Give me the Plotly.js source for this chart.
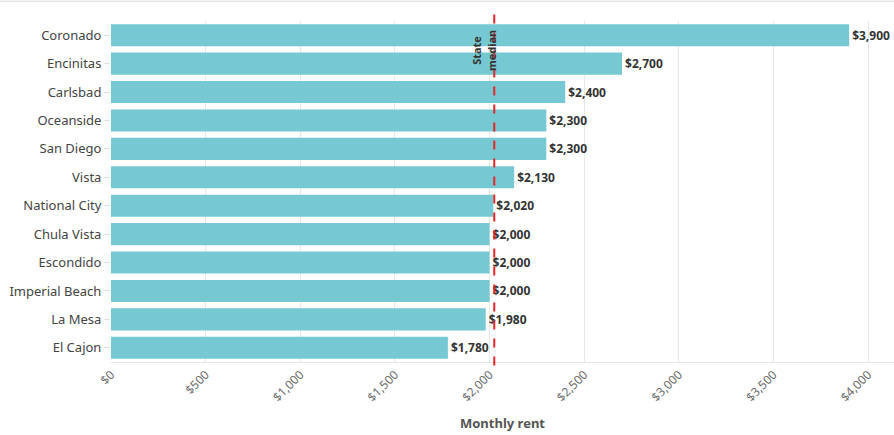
<!DOCTYPE html>
<html><head><meta charset="utf-8">
<script src="https://cdn.plot.ly/plotly-3.0.1.min.js"></script>
<style>html,body{margin:0;padding:0;background:#fff}#chart{width:894px;height:435px}</style>
</head><body><div id="chart"></div>
<script>
const cities = ["Coronado","Encinitas","Carlsbad","Oceanside","San Diego","Vista","National City","Chula Vista","Escondido","Imperial Beach","La Mesa","El Cajon"];
const rents = [3900,2700,2400,2300,2300,2130,2020,2000,2000,2000,1980,1780];
const stateMedian = 2025;
const medianLabel = "State<br>median";
const xTitle = "Monthly rent";

const FONT = "'Noto Sans', 'Open Sans', sans-serif";
const trace = {
  type: "bar", orientation: "h",
  y: cities, x: rents,
  marker: {color: "#76c9d2", line: {width: 0}},
  width: 0.78,
  text: rents.map(v => "$" + v.toLocaleString("en-US")),
  textposition: "outside",
  textfont: {family: FONT, size: 12, color: "#333", weight: "bold"},
  cliponaxis: false,
  constraintext: "none",
  hoverinfo: "skip"
};
const layout = {
  width: 894, height: 435,
  margin: {l: 111, r: 0, t: 21, b: 73},
  paper_bgcolor: "#fff", plot_bgcolor: "#fff",
  font: {family: FONT, color: "#555"},
  showlegend: false,
  xaxis: {
    range: [0, 4137], dtick: 500, tick0: 0,
    tickprefix: "$", tickformat: ",d", tickangle: -45,
    tickfont: {family: FONT, size: 12, color: "#6a6a6a"},
    showgrid: true, gridcolor: "#e8e8e8", gridwidth: 1,
    zeroline: false, showline: true, linecolor: "#e6e6e6",
    ticks: "", fixedrange: true,
    title: {text: xTitle, font: {family: FONT, size: 13, color: "#555", weight: "bold"}, standoff: 14}
  },
  yaxis: {
    autorange: "reversed", type: "category",
    tickfont: {family: FONT, size: 13, color: "#444"},
    ticks: "outside", ticklen: 6, tickcolor: "#e0e0e0",
    showgrid: false, zeroline: false, showline: false, fixedrange: true
  },
  shapes: [
    {type: "line", xref: "x", yref: "paper", x0: stateMedian, x1: stateMedian, y0: -0.01, y1: 1.02,
     line: {color: "#e3262b", width: 2, dash: "dash"}},
    {type: "line", xref: "paper", yref: "paper", x0: -0.2, x1: 1.1, y0: 1.058, y1: 1.058,
     line: {color: "#d9d9d9", width: 1}}
  ],
  annotations: [
    {xref: "x", yref: "paper", x: stateMedian, y: 0.98, xanchor: "right", yanchor: "top",
     text: medianLabel, textangle: -90, showarrow: false, align: "center", xshift: 6,
     font: {family: FONT, size: 11, color: "#333", weight: "bold"}}
  ]
};
Plotly.newPlot("chart", [trace], layout, {displayModeBar: false, staticPlot: true});
</script></body></html>
